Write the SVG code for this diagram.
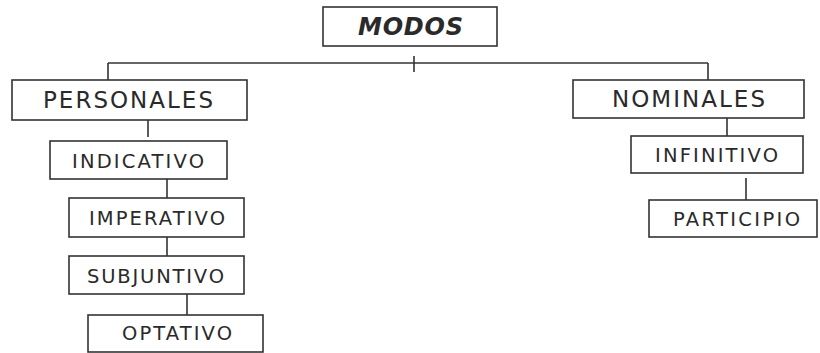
<svg xmlns="http://www.w3.org/2000/svg" width="820" height="353" viewBox="0 0 820 353">
<style>
.box{fill:#fff;stroke:#333;stroke-width:1.6}
.t{font-family:"DejaVu Sans",Verdana,sans-serif;font-size:23px;fill:#2a2a2a;text-anchor:start}
.s{font-size:19.5px}
.title{font-weight:bold;font-style:italic;font-size:24px}
.c{stroke:#333;stroke-width:1.6;fill:none}
</style>
<rect width="820" height="353" fill="#fff"/>
<g id="connectors">
<line class="c" x1="108" y1="63" x2="708" y2="63"/>
<line class="c" x1="414" y1="56" x2="414" y2="72"/>
<line class="c" x1="108" y1="63" x2="108" y2="80"/>
<line class="c" x1="708" y1="63" x2="708" y2="80"/>
<line class="c" x1="148" y1="120" x2="148" y2="137"/>
<line class="c" x1="167" y1="172" x2="167" y2="198"/>
<line class="c" x1="167" y1="237" x2="167" y2="256"/>
<line class="c" x1="187" y1="294" x2="187" y2="315"/>
<line class="c" x1="727" y1="118" x2="727" y2="136"/>
<line class="c" x1="746" y1="178" x2="746" y2="200"/>
</g>
<g id="modos">
<rect class="box" x="323" y="7" width="174" height="39"/>
<text class="t title" x="358" y="35" textLength="105" lengthAdjust="spacing">MODOS</text>
</g>
<g id="personales">
<rect class="box" x="12" y="80" width="235" height="40"/>
<text class="t" x="43" y="108" textLength="170" lengthAdjust="spacing">PERSONALES</text>
</g>
<g id="indicativo">
<rect class="box" x="50" y="141" width="177" height="38"/>
<text class="t s" x="72" y="168" textLength="132" lengthAdjust="spacing">INDICATIVO</text>
</g>
<g id="imperativo">
<rect class="box" x="69" y="198" width="175" height="39"/>
<text class="t s" x="89" y="225" textLength="136" lengthAdjust="spacing">IMPERATIVO</text>
</g>
<g id="subjuntivo">
<rect class="box" x="69" y="256" width="175" height="38"/>
<text class="t s" x="87" y="283" textLength="137" lengthAdjust="spacing">SUBJUNTIVO</text>
</g>
<g id="optativo">
<rect class="box" x="88" y="315" width="175" height="37"/>
<text class="t s" x="122" y="340" textLength="110" lengthAdjust="spacing">OPTATIVO</text>
</g>
<g id="nominales">
<rect class="box" x="573" y="80" width="231" height="38"/>
<text class="t" x="612" y="107" textLength="153" lengthAdjust="spacing">NOMINALES</text>
</g>
<g id="infinitivo">
<rect class="box" x="631" y="136" width="172" height="37"/>
<text class="t s" x="655" y="162" textLength="123" lengthAdjust="spacing">INFINITIVO</text>
</g>
<g id="participio">
<rect class="box" x="649" y="200" width="168" height="37"/>
<text class="t s" x="673" y="226" textLength="127" lengthAdjust="spacing">PARTICIPIO</text>
</g>
</svg>
